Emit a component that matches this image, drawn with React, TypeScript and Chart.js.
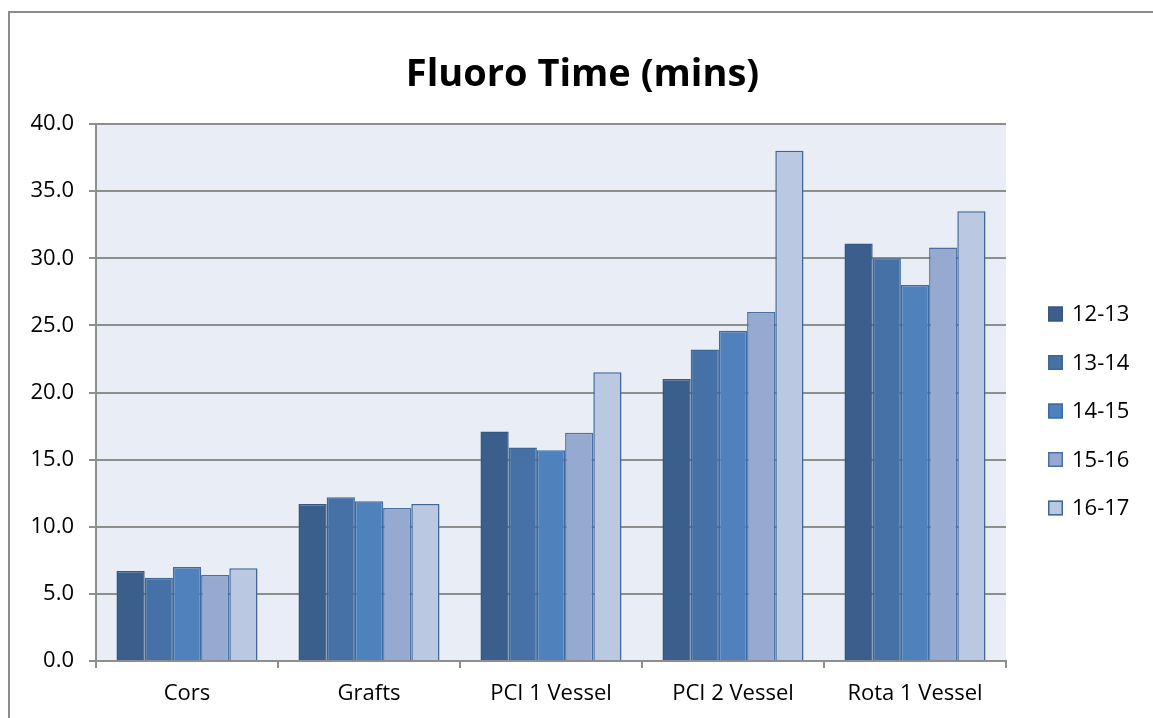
import React, { useEffect, useRef } from "react";
import { Chart, registerables } from "chart.js";

Chart.register(...registerables);

const chartTitle = "Fluoro Time (mins)";
const categories = ["Cors", "Grafts", "PCI 1 Vessel", "PCI 2 Vessel", "Rota 1 Vessel"];
const seriesLabels = ["12-13", "13-14", "14-15", "15-16", "16-17"];
const s1213 = [6.7, 11.7, 17.1, 21.0, 31.1];
const s1314 = [6.2, 12.2, 15.9, 23.2, 30.0];
const s1415 = [7.0, 11.9, 15.7, 24.6, 28.0];
const s1516 = [6.4, 11.4, 17.0, 26.0, 30.8];
const s1617 = [6.9, 11.7, 21.5, 38.0, 33.5];
const seriesValues = [s1213, s1314, s1415, s1516, s1617];
const fillColors = ["#3B5F8D", "#4571A6", "#4F81BD", "#95A9D1", "#BAC8E1"];
const borderColors = ["#365781", "#3D6798", "#3C6BA4", "#4A70A3", "#3E6599"];
const yTicks = [0, 5, 10, 15, 20, 25, 30, 35, 40];

const FONT = "'Open Sans', Lato, sans-serif";
const GRID = "#8E8E8E";

const plotBg = {
  id: "plotBg",
  beforeDraw(chart: any) {
    const { ctx, chartArea } = chart;
    ctx.save();
    ctx.fillStyle = "#E9EDF5";
    ctx.fillRect(chartArea.left, chartArea.top, chartArea.right - chartArea.left, chartArea.bottom - chartArea.top);
    ctx.restore();
  },
};

const titleAndLegend = {
  id: "titleAndLegend",
  afterDraw(chart: any) {
    const { ctx, chartArea } = chart;
    ctx.save();
    // title
    ctx.font = `bold 38px ${FONT}`;
    ctx.fillStyle = "#000";
    ctx.textAlign = "center";
    ctx.textBaseline = "alphabetic";
    ctx.fillText(chartTitle, chart.width / 2 + 6, chartArea.top - 38);
    // legend
    const mid = (chartArea.top + chartArea.bottom) / 2 + 18.5;
    const gap = 48.5;
    const n = chart.data.datasets.length;
    ctx.font = `22px ${FONT}`;
    ctx.textBaseline = "middle";
    ctx.textAlign = "left";
    chart.data.datasets.forEach((ds: any, i: number) => {
      const y = mid + (i - (n - 1) / 2) * gap;
      const x = chartArea.right + 42;
      ctx.fillStyle = ds.backgroundColor;
      ctx.fillRect(x, y - 7.5, 15, 15);
      ctx.strokeStyle = ds.borderColor;
      ctx.lineWidth = 1.5;
      ctx.strokeRect(x + 0.75, y - 6.75, 13.5, 13.5);
      ctx.fillStyle = "#000";
      ctx.fillText(ds.label, x + 24, y + 1);
    });
    ctx.restore();
  },
};

export default function App() {
  const ref = useRef<HTMLCanvasElement | null>(null);
  useEffect(() => {
    if (!ref.current) return;
    const chart = new Chart(ref.current, {
      type: "bar",
      data: {
        labels: categories,
        datasets: seriesLabels.map((label, i) => ({
          label,
          data: seriesValues[i],
          backgroundColor: fillColors[i],
          borderColor: borderColors[i],
          borderWidth: 1.5,
          barPercentage: 1,
          categoryPercentage: 0.775,
        })),
      },
      options: {
        animation: false,
        responsive: true,
        maintainAspectRatio: false,
        layout: { padding: { left: 0, right: 147, top: 124, bottom: 0 } },
        plugins: {
          legend: { display: false },
          tooltip: { enabled: false },
          title: { display: false },
        },
        scales: {
          x: {
            offset: true,
            grid: {
              offset: true,
              drawOnChartArea: false,
              drawTicks: true,
              tickLength: 7,
              color: GRID,
              lineWidth: 2,
            },
            border: { display: true, color: GRID, width: 2 },
            ticks: { color: "#000", font: { family: FONT, size: 22 }, padding: 13 },
            afterFit(scale: any) {
              scale.height = 57;
            },
          },
          y: {
            min: 0,
            max: 40,
            afterBuildTicks(scale: any) {
              scale.ticks = yTicks.map((v) => ({ value: v }));
            },
            grid: { color: GRID, lineWidth: 2, tickLength: 7, drawTicks: true },
            border: { display: true, color: GRID, width: 2 },
            ticks: {
              color: "#000",
              font: { family: FONT, size: 22 },
              padding: 15,
              callback: (v: any) => Number(v).toFixed(1),
            },
            afterFit(scale: any) {
              scale.width = 96;
            },
          },
        },
      },
      plugins: [plotBg, titleAndLegend],
    } as any);
    return () => chart.destroy();
  }, []);

  return (
    <div style={{ position: "fixed", left: 0, top: 0, width: 1153, height: 718, overflow: "hidden", background: "#fff" }}>
      <div
        style={{
          position: "absolute",
          left: 8,
          top: 11,
          width: 1300,
          height: 900,
          borderLeft: "2px solid #8C8C8C",
          borderTop: "2px solid #8C8C8C",
        }}
      />
      <div style={{ position: "absolute", left: 0, top: 0, width: 1153, height: 718 }}>
        <canvas ref={ref} />
      </div>
    </div>
  );
}
